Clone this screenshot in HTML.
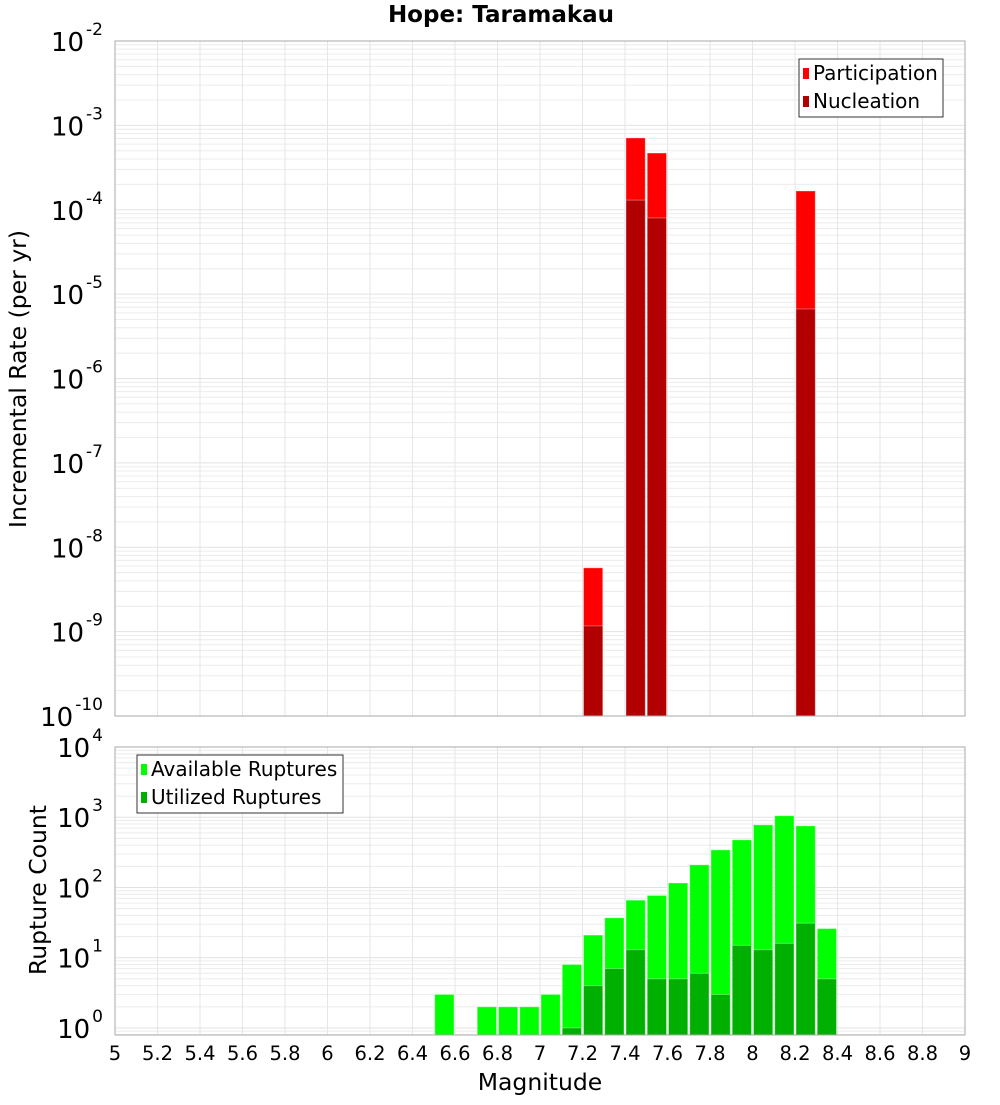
<!DOCTYPE html>
<html><head><meta charset="utf-8"><style>
body{margin:0;background:#fff;}
svg text{font-family:"DejaVu Sans","Liberation Sans",sans-serif;fill:#000;}
</style></head><body>
<svg id="c" width="1000" height="1100" xmlns="http://www.w3.org/2000/svg">
<text x="501" y="22" text-anchor="middle" font-size="23" font-weight="bold">Hope: Taramakau</text>
<g id="top"></g>
<g id="bot"></g>
<text x="540" y="1090" text-anchor="middle" font-size="23.5">Magnitude</text>
<text transform="translate(26,379) rotate(-90)" text-anchor="middle" font-size="23.5">Incremental Rate (per yr)</text>
<text transform="translate(46,890) rotate(-90)" text-anchor="middle" font-size="23.5">Rupture Count</text>
</svg>
<script>
const rateMags=[7.2,7.4,7.5,8.2];
const participation=[5.7e-9,7.1e-4,4.7e-4,1.67e-4];
const nucleation=[1.17e-9,1.3e-4,8.0e-5,6.67e-6];
const countMags=[6.5,6.7,6.8,6.9,7.0,7.1,7.2,7.3,7.4,7.5,7.6,7.7,7.8,7.9,8.0,8.1,8.2,8.3];
const available=[3,2,2,2,3,8,21,37,66,77,116,210,343,476,778,1050,753,26];
const utilized=[0,0,0,0,0,1,4,7,13,5,5,6,3,15,13,16,31,5];
const xTicks=[5,5.2,5.4,5.6,5.8,6,6.2,6.4,6.6,6.8,7,7.2,7.4,7.6,7.8,8,8.2,8.4,8.6,8.8,9];
const topExps=[-2,-3,-4,-5,-6,-7,-8,-9,-10];
const botExps=[4,3,2,1,0];

const NS='http://www.w3.org/2000/svg';
const X0=115,X1=965;
const xs=m=>X0+(m-5)/4*(X1-X0);
function yTop(v){return 41+(-2-Math.log10(v))*84.375;}
function yBot(v){return 747+(4-Math.log10(v))*70.24;}
function el(p,t,a){const e=document.createElementNS(NS,t);for(const k in a)e.setAttribute(k,a[k]);p.appendChild(e);return e;}

function frame(g,yt,yb,dmin,dmax,yf){
  for(let d=dmin;d<dmax;d++){for(let k=1;k<10;k++){const y=yf(k*Math.pow(10,d));if(y<yt-0.5||y>yb+0.5)continue;
    const l=el(g,'line',{x1:X0,x2:X1,y1:y,y2:y,stroke:k==1?'#e2e2e2':'#ececec','stroke-width':1});
    
    }}
  xTicks.forEach(m=>{const l=el(g,'line',{x1:xs(m),x2:xs(m),y1:yt,y2:yb,stroke:'#e6e6e6'});
    
    });
}
function border(g,yt,yb){const r=el(g,'rect',{x:X0,y:yt,width:X1-X0,height:yb-yt,fill:'none',stroke:'#aaa'});
  
  }
function ylabel(g,e,y){const t=el(g,'text',{x:103,y:y+10,'text-anchor':'end','font-size':26});
  
  
  t.textContent='10';const s=el(t,'tspan',{dx:2,dy:-16,'font-size':17});s.textContent=String(e);}
function bar(g,m,v,yf,base,col,name){const y=yf(v);const r=el(g,'rect',{x:xs(m)+1,y:y,width:xs(m+0.1)-xs(m)-2,height:base-y,fill:col,stroke:'#fff','stroke-opacity':0.35,'stroke-width':1});
  
  }

const gt=document.getElementById('top');
frame(gt,41,716,-10,-2,yTop);
rateMags.forEach((m,i)=>{bar(gt,m,participation[i],yTop,716,'#ff0000','participation-bar');bar(gt,m,nucleation[i],yTop,716,'#b20000','nucleation-bar');});
border(gt,41,716);
topExps.forEach(e=>ylabel(gt,e,yTop(Math.pow(10,e))));
const gb=document.getElementById('bot');
frame(gb,747,1035,-1,4,yBot);
countMags.forEach((m,i)=>{bar(gb,m,available[i],yBot,1035,'#00ff00','available-bar');if(utilized[i]>0)bar(gb,m,utilized[i],yBot,1035,'#00b000','utilized-bar');});
border(gb,747,1035);
botExps.forEach(e=>ylabel(gb,e,yBot(Math.pow(10,e))));
xTicks.forEach(m=>{const t=el(gb,'text',{x:xs(m),y:1060,'text-anchor':'middle','font-size':19.5});
  
  
  t.textContent=String(m);});

function legend(g,x,y,w,items,name){const lg=el(g,'g',{});
  
  
  el(lg,'rect',{x:x,y:y,width:w,height:58,fill:'#fff',stroke:'#333'});
  items.forEach((it,i)=>{const cy=y+14+i*28;
    const s=el(lg,'rect',{x:x+4,y:cy-5,width:6,height:11,fill:it[1]});
    
    
    const t=el(lg,'text',{x:x+14,y:cy+7,'font-size':20});
    
    
    t.textContent=it[0];});}
legend(gt,799,59,144,[['Participation','#ff0000'],['Nucleation','#b20000']],'top-legend');
legend(gb,137,755,206,[['Available Ruptures','#00ff00'],['Utilized Ruptures','#00b000']],'bottom-legend');
</script>
</body></html>
